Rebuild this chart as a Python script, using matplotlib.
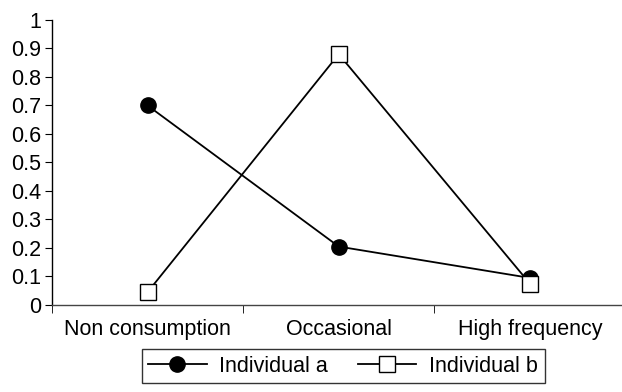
import matplotlib
matplotlib.use("Agg")
import matplotlib.pyplot as plt

categories = ["Non consumption", "Occasional", "High frequency"]
individual_a = [0.70, 0.205, 0.095]
individual_b = [0.045, 0.88, 0.075]
y_ticks = [0, 0.1, 0.2, 0.3, 0.4, 0.5, 0.6, 0.7, 0.8, 0.9, 1]
y_labels = ["0", "0.1", "0.2", "0.3", "0.4", "0.5", "0.6", "0.7", "0.8", "0.9", "1"]

plt.rcParams["font.family"] = ["Liberation Sans", "DejaVu Sans"]
fs = 15.5

fig = plt.figure(figsize=(6.22, 3.92), dpi=100)
ax = fig.add_axes([0.0836, 0.222, 0.922, 0.727])

x = list(range(len(categories)))
ax.plot(x, individual_a, "-o", color="black", lw=1.3, ms=11,
        mfc="black", mec="black", label="Individual a", zorder=3)
ax.plot(x, individual_b, "-s", color="black", lw=1.3, ms=11,
        mfc="white", mec="black", mew=1.0, label="Individual b", zorder=4)

ax.set_xlim(-0.5, len(categories) - 0.5)
ax.set_ylim(0, 1)
ax.set_yticks(y_ticks)
ax.set_yticklabels(y_labels, fontsize=fs)
ax.set_xticks(x)
ax.set_xticklabels(categories, fontsize=fs)
ax.tick_params(axis="x", length=0, pad=10)
ax.set_xticks([-0.5, 0.5, 1.5, 2.5], minor=True)
ax.tick_params(axis="x", which="minor", length=6, direction="out")
ax.tick_params(axis="y", length=5, direction="out", pad=3)

for s in ["top", "right"]:
    ax.spines[s].set_visible(False)
for s in ["left", "bottom"]:
    ax.spines[s].set_linewidth(1.0)
ax.spines["bottom"].set_color("#444")

leg = fig.legend(loc="center", bbox_to_anchor=(0.552, 0.066), ncol=2,
                 frameon=True, fancybox=False, edgecolor="black",
                 fontsize=fs, handlelength=2.7, columnspacing=1.4,
                 handletextpad=0.6, borderpad=0.3)
leg.get_frame().set_linewidth(1.0)

fig.savefig("out.png", dpi=100)
